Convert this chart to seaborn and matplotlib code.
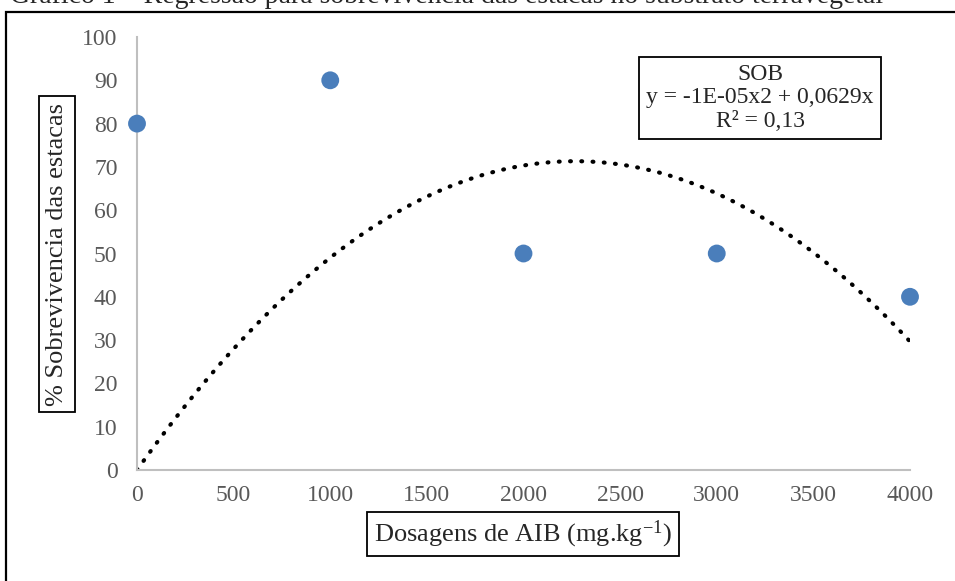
import numpy as np
import pandas as pd
import matplotlib
matplotlib.use("Agg")
import matplotlib.pyplot as plt
import seaborn as sns
from matplotlib.patches import Rectangle

# data
dosagens = [0, 1000, 2000, 3000, 4000]
sobrevivencia = [80, 90, 50, 50, 40]
x_ticks = [0, 500, 1000, 1500, 2000, 2500, 3000, 3500, 4000]
y_ticks = [0, 10, 20, 30, 40, 50, 60, 70, 80, 90, 100]

sns.set_theme(style="white")
plt.rcParams['font.family'] = ['Liberation Serif', 'DejaVu Serif']
plt.rcParams['mathtext.default'] = 'regular'

df = pd.DataFrame({'dose': dosagens, 'sob': sobrevivencia})

# polynomial trend (order 2, through origin) like excel
xv = np.array(dosagens, dtype=float)
A = np.column_stack([xv ** 2, xv])
coef, *_ = np.linalg.lstsq(A, np.array(sobrevivencia, dtype=float), rcond=None)
xs = np.linspace(0, 4000, 300)
trend = pd.DataFrame({'dose': xs, 'fit': coef[0] * xs ** 2 + coef[1] * xs})

fig = plt.figure(figsize=(9.55, 5.81), dpi=100)
ax = fig.add_axes([137 / 955, 1 - 470 / 581, (910 - 137) / 955, (470 - 37) / 581])

sns.lineplot(data=trend, x='dose', y='fit', ax=ax, color='black', lw=3.0,
             linestyle=(0, (0.2, 2.5)), dash_capstyle='round')
sns.scatterplot(data=df, x='dose', y='sob', ax=ax, color='#4A7EBB', s=165,
                edgecolor='none', clip_on=False, zorder=5)

ax.set_xlim(0, 4000)
ax.set_ylim(0, 100)
ax.set_xticks(x_ticks)
ax.set_yticks(y_ticks)
ax.set_xlabel('')
ax.set_ylabel('')
ax.tick_params(axis='both', length=0, labelsize=17, labelcolor='#595959')
ax.tick_params(axis='y', pad=14)
ax.tick_params(axis='x', pad=11)
for side in ['top', 'right']:
    ax.spines[side].set_visible(False)
for side in ['left', 'bottom']:
    ax.spines[side].set_color('#BFBFBF')
    ax.spines[side].set_linewidth(1.5)

box = dict(boxstyle='square,pad=0.25', facecolor='white', edgecolor='black', lw=1.3)
fig.text(57 / 955, 1 - 254 / 581, '% Sobrevivencia das estacas', rotation=90,
         ha='center', va='center', fontsize=19, bbox=box)
fig.text(523 / 955, 1 - 534 / 581, 'Dosagens de AIB (mg.kg$^{-1}$)',
         ha='center', va='center', fontsize=19, bbox=box)
fig.text(760 / 955, 1 - 98 / 581,
         'SOB\ny = -1E-05x2 + 0,0629x\nR² = 0,13',
         ha='center', va='center', fontsize=17, linespacing=1.15,
         bbox=dict(boxstyle='square,pad=0.3', facecolor='white', edgecolor='black', lw=1.3))

# outer frame and clipped caption from the page
fig.patches.append(Rectangle((6 / 955, -0.1), 1.1, 1 - 12 / 581 + 0.1,
                             transform=fig.transFigure, fill=False,
                             edgecolor='black', lw=1.6))
fig.text(10 / 955, 1 - 3 / 581,
         'Gráfico 1 – Regressão para sobrevivência das estacas no substrato terravegetal',
         ha='left', va='baseline', fontsize=20)

fig.savefig('out.png', dpi=100)
